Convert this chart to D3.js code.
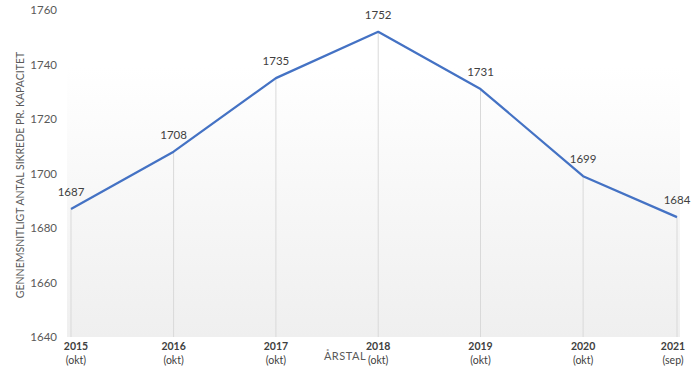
<!DOCTYPE html>
<html><head><meta charset="utf-8">
<script src="https://cdn.jsdelivr.net/npm/d3@7"></script>
<style>body{margin:0;background:#fff}svg{display:block;font-family:Lato,"Open Sans",sans-serif}</style>
</head><body><svg id="c" width="694" height="370"></svg>
<script>
const dates = ["2015-10-01","2016-10-01","2017-10-01","2018-10-01","2019-10-01","2020-10-01","2021-09-01"];
const years = ["2015","2016","2017","2018","2019","2020","2021"];
const months = ["(okt)","(okt)","(okt)","(okt)","(okt)","(okt)","(sep)"];
const values = [1687,1708,1735,1752,1731,1699,1684];
const yTicks = [1640,1660,1680,1700,1720,1740,1760];

const parse = d3.timeParse("%Y-%m-%d");
const data = dates.map((d,i)=>({date:parse(d),v:values[i],y:years[i],m:months[i]}));
const svg = d3.select("#c");
const x = d3.scaleTime().domain([data[0].date, data[data.length-1].date]).range([71,677]);
const y = d3.scaleLinear().domain([1640,1760]).range([337,10]);

const defs = svg.append("defs");
const g = defs.append("linearGradient").attr("id","bg").attr("x1",0).attr("y1",0).attr("x2",0).attr("y2",1);
g.append("stop").attr("offset","0%").attr("stop-color","#ffffff");
g.append("stop").attr("offset","100%").attr("stop-color","#efefef");
svg.append("rect").attr("x",67).attr("y",66).attr("width",613).attr("height",y(1640)-66).attr("fill","url(#bg)");

// drop lines
svg.append("g").selectAll("line").data(data).join("line")
  .attr("x1",d=>x(d.date)).attr("x2",d=>x(d.date))
  .attr("y1",d=>y(d.v)).attr("y2",y(1640))
  .attr("stroke","#d9d9d9").attr("stroke-width",1);

// y axis labels
svg.append("g").selectAll("text").data(yTicks).join("text")
  .attr("x",57).attr("y",d=>y(d)).attr("dy","0.35em").attr("text-anchor","end")
  .attr("font-size",11.5).attr("fill","#595959").text(d=>d);

// x axis labels
const xl = svg.append("g").selectAll("g").data(data).join("g")
  .attr("transform",(d,i)=>{
    let cx = x(d.date);
    if(i===0) cx += 5;
    if(i===data.length-1) cx -= 4;
    return `translate(${cx},0)`;
  });
xl.append("text").attr("y",350).attr("text-anchor","middle").attr("font-size",10.5).attr("font-weight","bold").attr("fill","#404040").text(d=>d.y);
xl.append("text").attr("y",364).attr("text-anchor","middle").attr("font-size",10.5).attr("fill","#404040").text(d=>d.m);

// line
svg.append("path").datum(data)
  .attr("d",d3.line().x(d=>x(d.date)).y(d=>y(d.v)))
  .attr("fill","none").attr("stroke","#4472C4").attr("stroke-width",2.25).attr("stroke-linejoin","round");

// data labels
svg.append("g").selectAll("text").data(data).join("text")
  .attr("x",d=>x(d.date))
  .attr("y",d=>y(d.v)-17).attr("dy","0.35em").attr("text-anchor","middle")
  .attr("font-size",11.5).attr("fill","#404040").text(d=>d.v);

// axis titles
svg.append("text").attr("x",345).attr("y",360).attr("text-anchor","middle").attr("font-size",11).attr("fill","#595959").attr("letter-spacing",0.5).text("ÅRSTAL");
svg.append("text").attr("transform","translate(24,175) rotate(-90)").attr("text-anchor","middle").attr("font-size",10.5).attr("fill","#595959").text("GENNEMSNITLIGT ANTAL SIKREDE PR. KAPACITET");
</script></body></html>
